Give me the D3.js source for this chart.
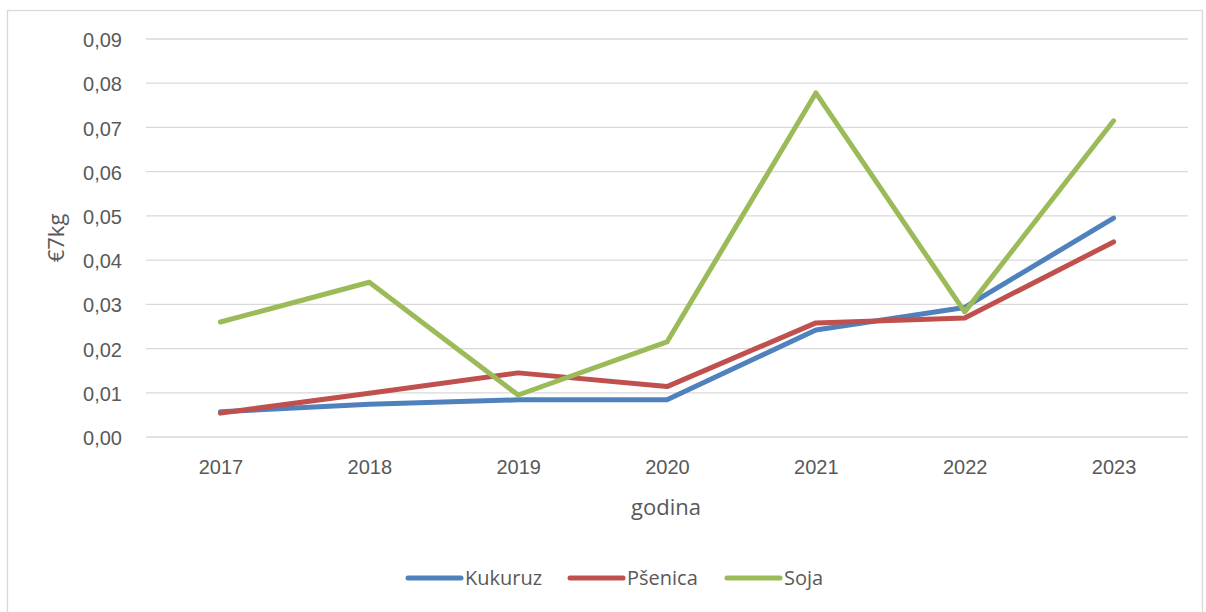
<!DOCTYPE html>
<html>
<head>
<meta charset="utf-8">
<script src="https://cdn.jsdelivr.net/npm/d3@7"></script>
<style>
  body { margin: 0; background: #fff; }
  svg { font-family: "Open Sans", sans-serif; }
</style>
</head>
<body>
<svg id="chart" width="1206" height="612"></svg>
<script>
var years = ["2017", "2018", "2019", "2020", "2021", "2022", "2023"];
var kukuruz = [0.0057, 0.0074, 0.0084, 0.0084, 0.0242, 0.0293, 0.0495];
var psenica = [0.0054, 0.0099, 0.0145, 0.0114, 0.0258, 0.0269, 0.0441];
var soja = [0.0260, 0.0350, 0.0095, 0.0215, 0.0778, 0.0283, 0.0715];
var yTicks = [0, 0.01, 0.02, 0.03, 0.04, 0.05, 0.06, 0.07, 0.08, 0.09];

var series = [
  { name: "Kukuruz", values: kukuruz, color: "#4f81bd" },
  { name: "Pšenica", values: psenica, color: "#c0504d" },
  { name: "Soja", values: soja, color: "#9bbb59" }
];

var svg = d3.select("#chart");

// outer frame
svg.append("rect")
    .attr("x", 7.5).attr("y", 10.5)
    .attr("width", 1195).attr("height", 610)
    .attr("fill", "none")
    .attr("stroke", "#d9d9d9")
    .attr("stroke-width", 1.3);

var x = d3.scalePoint().domain(years).range([146, 1188]).padding(0.5);
var y = d3.scaleLinear().domain([0, 0.09]).range([437, 39]);

var fmt = function(d) { return d3.format(".2f")(d).replace(".", ","); };

// gridlines
svg.append("g")
    .selectAll("line")
    .data(yTicks)
    .enter().append("line")
    .attr("x1", 146).attr("x2", 1188)
    .attr("y1", function(d) { return y(d); })
    .attr("y2", function(d) { return y(d); })
    .attr("stroke", "#d9d9d9")
    .attr("stroke-width", 1.3);

// y axis
var yAxis = svg.append("g")
    .attr("transform", "translate(146,0)")
    .call(d3.axisLeft(y).tickValues(yTicks).tickFormat(fmt).tickSize(0).tickPadding(24));
yAxis.select(".domain").remove();
yAxis.selectAll("text")
    .attr("fill", "#595959")
    .attr("dy", "0.38em")
    .style("font-size", "20px");

// x axis
var xAxis = svg.append("g")
    .attr("transform", "translate(0,437)")
    .call(d3.axisBottom(x).tickSize(0).tickPadding(23));
xAxis.select(".domain").remove();
xAxis.selectAll("text")
    .attr("fill", "#595959")
    .style("font-size", "20px");

// axis titles
svg.append("text")
    .attr("x", 666).attr("y", 515)
    .attr("text-anchor", "middle")
    .attr("fill", "#595959")
    .style("font-size", "22px")
    .text("godina");

svg.append("text")
    .attr("transform", "translate(64,238) rotate(-90)")
    .attr("text-anchor", "middle")
    .attr("fill", "#595959")
    .style("font-size", "22px")
    .text("€7kg");

// lines
var line = d3.line()
    .x(function(d, i) { return x(years[i]); })
    .y(function(d) { return y(d); });

svg.append("g")
    .selectAll("path")
    .data(series)
    .enter().append("path")
    .attr("d", function(d) { return line(d.values); })
    .attr("fill", "none")
    .attr("stroke", function(d) { return d.color; })
    .attr("stroke-width", 5)
    .attr("stroke-linecap", "round")
    .attr("stroke-linejoin", "round");

// legend
var legendX = [406, 568, 725];
var legend = svg.append("g")
    .selectAll("g")
    .data(series)
    .enter().append("g")
    .attr("transform", function(d, i) { return "translate(" + legendX[i] + ",578)"; });

legend.append("line")
    .attr("x1", 2).attr("x2", 55)
    .attr("stroke", function(d) { return d.color; })
    .attr("stroke-width", 5)
    .attr("stroke-linecap", "round");

legend.append("text")
    .attr("x", 59).attr("y", 7)
    .attr("fill", "#595959")
    .style("font-size", "20px")
    .text(function(d) { return d.name; });
</script>
</body>
</html>
